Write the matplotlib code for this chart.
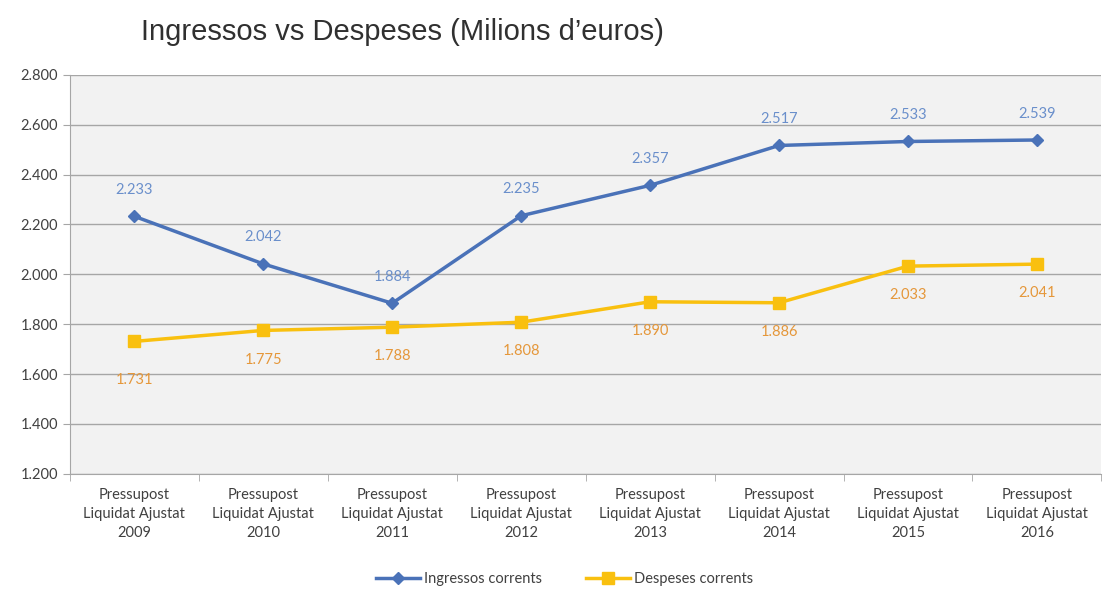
import matplotlib
matplotlib.use("Agg")
import matplotlib.pyplot as plt
from matplotlib.ticker import FuncFormatter, FixedLocator

categories = ["Pressupost\nLiquidat Ajustat\n2009", "Pressupost\nLiquidat Ajustat\n2010",
              "Pressupost\nLiquidat Ajustat\n2011", "Pressupost\nLiquidat Ajustat\n2012",
              "Pressupost\nLiquidat Ajustat\n2013", "Pressupost\nLiquidat Ajustat\n2014",
              "Pressupost\nLiquidat Ajustat\n2015", "Pressupost\nLiquidat Ajustat\n2016"]
ingressos = [2233, 2042, 1884, 2235, 2357, 2517, 2533, 2539]
despeses = [1731, 1775, 1788, 1808, 1890, 1886, 2033, 2041]
yticks = [1200, 1400, 1600, 1800, 2000, 2200, 2400, 2600, 2800]

plt.rcParams['font.family'] = ['Lato', 'DejaVu Sans']

fig = plt.figure(figsize=(11.07, 5.90), dpi=100)
fig.patch.set_facecolor('white')
ax = fig.add_axes([0.063, 0.197, 0.932, 0.676])
ax.set_facecolor('#F2F2F2')

x = list(range(len(categories)))
blue = '#4A72B8'
yellow = '#F9C00F'
ax.plot(x, ingressos, color=blue, lw=2.5, marker='D', ms=6, label='Ingressos corrents', zorder=3)
ax.plot(x, despeses, color=yellow, lw=2.5, marker='s', ms=8, label='Despeses corrents', zorder=3)

def fmt(v):
    return f"{int(v):,}".replace(",", ".")

for xi, v in zip(x, ingressos):
    ax.annotate(fmt(v), (xi, v), xytext=(0, 19), textcoords='offset points',
                ha='center', va='center', fontsize=10.5, color='#6A8FCB')
for xi, v in zip(x, despeses):
    off = -28 if xi == 0 else -21
    ax.annotate(fmt(v), (xi, v), xytext=(0, off), textcoords='offset points',
                ha='center', va='center', fontsize=10.5, color='#E5973A')

ax.set_xlim(-0.5, 7.5)
ax.set_ylim(1200, 2800)
ax.set_yticks(yticks)
ax.yaxis.set_major_formatter(FuncFormatter(lambda v, p: fmt(v)))
ax.grid(axis='y', color='#A6A6A6', lw=1)
ax.set_axisbelow(True)

ax.set_xticks(x)
ax.set_xticklabels(categories, fontsize=10.5, color='#404040', linespacing=1.45)
ax.tick_params(axis='x', length=0, pad=10)
ax.xaxis.set_minor_locator(FixedLocator([i + 0.5 for i in range(-1, 8)]))
ax.tick_params(axis='x', which='minor', length=5, color='#A6A6A6')
ax.tick_params(axis='y', labelsize=10.5, labelcolor='#404040', length=5, color='#A6A6A6')

for s in ['top', 'right']:
    ax.spines[s].set_visible(False)
ax.spines['left'].set_color('#A6A6A6')
ax.spines['bottom'].set_color('#A6A6A6')

fig.text(0.127, 0.945, "Ingressos vs Despeses (Milions d\u2019euros)", fontsize=21,
         family=['Liberation Sans', 'DejaVu Sans'], color='#303030', va='center', ha='left')

fig.legend(loc='center', bbox_to_anchor=(0.51, 0.018), ncol=2, frameon=False,
           fontsize=10.5, handlelength=3, columnspacing=3, handletextpad=0.3,
           labelcolor='#404040')

fig.savefig('out.png', dpi=100)
